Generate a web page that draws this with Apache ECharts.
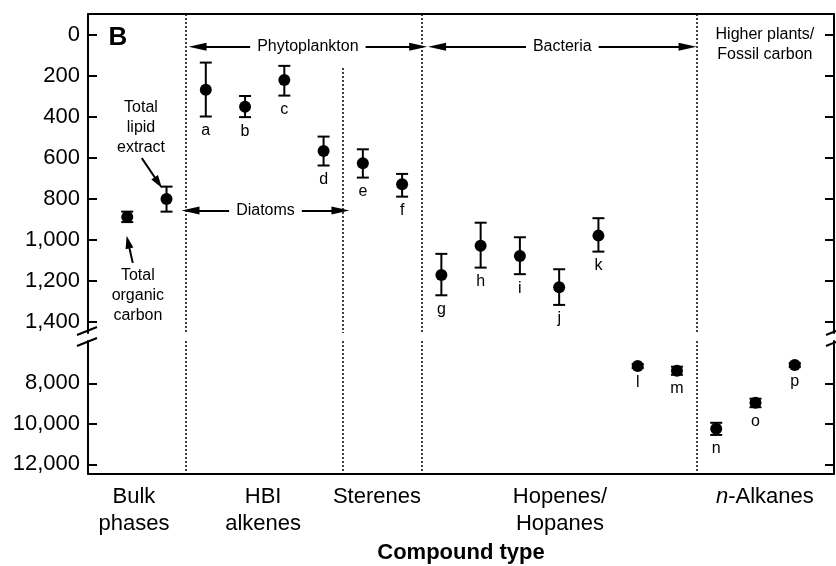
<!DOCTYPE html>
<html>
<head>
<meta charset="utf-8">
<script src="https://cdn.jsdelivr.net/npm/echarts@6/dist/echarts.min.js"></script>
<style>html,body{margin:0;padding:0;background:#fff}#chart{width:836px;height:566px}</style>
</head>
<body>
<div id="chart"></div>
<script>
// sample letters, mean ages and error bar ends (top segment < 1500, rest below the break)
var pointNames = ['', '', 'a', 'b', 'c', 'd', 'e', 'f', 'g', 'h', 'i', 'j', 'k', 'l', 'm', 'n', 'o', 'p'];
var pointMid = [888, 800, 268, 350, 220, 566, 626, 728, 1171, 1028, 1078, 1231, 979, 7150, 7380, 10250, 8960, 7100];
var pointLow = [862, 740, 135, 298, 151, 496, 558, 678, 1068, 916, 987, 1143, 894, 7050, 7180, 9950, 8760, 7000];
var pointHigh = [913, 862, 398, 401, 296, 637, 696, 789, 1270, 1135, 1167, 1317, 1057, 7250, 7580, 10550, 9180, 7200];
var groupNames = ['Bulk\nphases', 'HBI\nalkenes', 'Sterenes', 'Hopenes/\nHopanes', '{i|n}-Alkanes'];
var groupCenters = [0.17, 3.46, 6.36, 11.02, 16.24];
var groupBounds = [1.5, 7.5, 14.5];
var diatomBound = 5.5;
var topTicks = [0, 200, 400, 600, 800, 1000, 1200, 1400];
var bottomTicks = [8000, 10000, 12000];
var breakValue = 1500;

var FONT = '"Liberation Sans", Arial, Helvetica, sans-serif';
var arrowPath = 'path://M4,0 L8,18 L0,18 Z';

var topErr = [], topPts = [], topLbl = [], botErr = [], botPts = [], botLbl = [];
for (var i = 0; i < pointMid.length; i++) {
    var big = pointMid[i] > breakValue;
    (big ? botErr : topErr).push([i, pointLow[i], pointHigh[i]]);
    (big ? botPts : topPts).push([i, pointMid[i]]);
    if (pointNames[i]) (big ? botLbl : topLbl).push([i, pointHigh[i], pointNames[i]]);
}

function renderErr(params, api) {
    var a = api.coord([api.value(0), api.value(1)]);
    var b = api.coord([api.value(0), api.value(2)]);
    var w = 6;
    var st = {stroke: '#000', lineWidth: 2};
    return {type: 'group', children: [
        {type: 'line', shape: {x1: a[0], y1: a[1], x2: b[0], y2: b[1]}, style: st},
        {type: 'line', shape: {x1: a[0] - w, y1: a[1], x2: a[0] + w, y2: a[1]}, style: st},
        {type: 'line', shape: {x1: b[0] - w, y1: b[1], x2: b[0] + w, y2: b[1]}, style: st}
    ]};
}

function sep(x) {
    return {xAxis: x};
}
function arrowPair(x1, x2, y, text) {
    var lbl = {show: true, position: 'middle', formatter: text, color: '#000', fontSize: 16,
        fontFamily: FONT, backgroundColor: '#fff', padding: [2, 7], distance: 0, verticalAlign: 'middle'};
    var ls = {type: 'solid', width: 2, color: '#000'};
    return [
        {coord: [x1, y], symbol: arrowPath, symbolSize: [8, 18], label: lbl, lineStyle: ls},
        {coord: [x2, y], symbol: arrowPath, symbolSize: [8, 18], label: lbl, lineStyle: ls}
    ];
}
function pointer(x1, y1, x2, y2) {
    var ls = {type: 'solid', width: 2, color: '#000'};
    return [
        {coord: [x1, y1], symbol: 'none', lineStyle: ls, label: {show: false}},
        {coord: [x2, y2], symbol: arrowPath, symbolSize: [8, 13], lineStyle: ls, label: {show: false}}
    ];
}
function note(x, y, text, extra) {
    var lbl = {show: true, position: 'inside', formatter: text, color: '#000', fontSize: 16,
        lineHeight: 20, fontFamily: FONT, align: 'center', verticalAlign: 'middle'};
    for (var k in extra) lbl[k] = extra[k];
    return {coord: [x, y], symbolSize: 0, label: lbl};
}

var dotted = {type: [2, 2], width: 1.5, color: '#000'};
var axisLine = {show: true, onZero: false, lineStyle: {color: '#000', width: 2}};

function yAxisOf(grid, min, max, ticks, side) {
    return {
        type: 'value', gridIndex: grid, inverse: true, min: min, max: max, position: side,
        axisLine: axisLine,
        axisTick: {show: true, inside: true, length: 9, lineStyle: {color: '#000', width: 2}, customValues: ticks},
        axisLabel: {show: side === 'left', customValues: ticks, color: '#000', fontSize: 22, fontFamily: FONT,
            margin: 8, formatter: function (v) { return v.toLocaleString('en-US'); }},
        splitLine: {show: false}
    };
}

var chart = echarts.init(document.getElementById('chart'));
chart.setOption({
    animation: false,
    backgroundColor: '#fff',
    grid: [
        {left: 88, right: 2, top: 14, height: 319},
        {left: 88, right: 2, top: 341, height: 133}
    ],
    xAxis: [
        {type: 'value', gridIndex: 0, min: -1, max: 18, position: 'top', axisLine: axisLine,
            axisTick: {show: false}, axisLabel: {show: false}, splitLine: {show: false}},
        {type: 'value', gridIndex: 1, min: -1, max: 18, position: 'bottom', axisLine: axisLine,
            axisTick: {show: false}, splitLine: {show: false},
            name: 'Compound type', nameLocation: 'middle', nameGap: 68,
            nameTextStyle: {color: '#000', fontSize: 22, fontWeight: 'bold', fontFamily: FONT},
            axisLabel: {customValues: groupCenters, color: '#000', fontSize: 22, lineHeight: 27,
                fontFamily: FONT, margin: 9,
                formatter: function (v) {
                    for (var j = 0; j < groupCenters.length; j++) {
                        if (Math.abs(groupCenters[j] - v) < 1e-6) return groupNames[j];
                    }
                    return '';
                },
                rich: {i: {fontStyle: 'italic', fontSize: 22, fontFamily: FONT, color: '#000'}}}}
    ],
    yAxis: [
        yAxisOf(0, -102, 1454, topTicks, 'left'),
        yAxisOf(0, -102, 1454, topTicks, 'right'),
        yAxisOf(1, 5911, 12479, bottomTicks, 'left'),
        yAxisOf(1, 5911, 12479, bottomTicks, 'right')
    ],
    series: [
        {type: 'custom', xAxisIndex: 0, yAxisIndex: 0, renderItem: renderErr, data: topErr, z: 3,
            encode: {x: 0, y: [1, 2]}},
        {type: 'scatter', xAxisIndex: 0, yAxisIndex: 0, data: topPts, symbolSize: 12,
            itemStyle: {color: '#000', opacity: 1}, z: 4},
        {type: 'scatter', xAxisIndex: 0, yAxisIndex: 0, data: topLbl, symbolSize: 0, z: 5,
            itemStyle: {color: '#000', opacity: 1},
            label: {show: true, position: 'bottom', distance: 6, color: '#000', fontSize: 16, fontFamily: FONT,
                formatter: function (p) { return p.value[2]; }},
            markLine: {
                silent: true, symbol: ['none', 'none'], label: {show: false}, lineStyle: dotted,
                data: [
                    sep(groupBounds[0]), sep(groupBounds[1]), sep(groupBounds[2]),
                    [{coord: [diatomBound, 161]}, {coord: [diatomBound, 1454]}],
                    arrowPair(1.79, 7.41, 58, 'Phytoplankton'),
                    arrowPair(7.89, 14.27, 58, 'Bacteria'),
                    arrowPair(1.61, 5.43, 857, 'Diatoms'),
                    pointer(0.37, 601, 0.79, 720),
                    pointer(0.14, 1112, 0.02, 1010)
                ]
            },
            markPoint: {
                silent: true,
                data: [
                    note(-0.24, 12, 'B', {fontSize: 26, fontWeight: 'bold'}),
                    note(0.35, 454, 'Total\nlipid\nextract'),
                    note(0.27, 1273, 'Total\norganic\ncarbon'),
                    note(16.24, 49, 'Higher plants/\nFossil carbon')
                ]
            }},
        {type: 'custom', xAxisIndex: 1, yAxisIndex: 2, renderItem: renderErr, data: botErr, z: 3,
            encode: {x: 0, y: [1, 2]}},
        {type: 'scatter', xAxisIndex: 1, yAxisIndex: 2, data: botPts, symbolSize: 12,
            itemStyle: {color: '#000', opacity: 1}, z: 4},
        {type: 'scatter', xAxisIndex: 1, yAxisIndex: 2, data: botLbl, symbolSize: 0, z: 5,
            itemStyle: {color: '#000', opacity: 1},
            label: {show: true, position: 'bottom', distance: 6, color: '#000', fontSize: 16, fontFamily: FONT,
                formatter: function (p) { return p.value[2]; }},
            markLine: {
                silent: true, symbol: ['none', 'none'], label: {show: false}, lineStyle: dotted,
                data: [sep(groupBounds[0]), sep(diatomBound), sep(groupBounds[1]), sep(groupBounds[2])]
            }}
    ],
    graphic: [
        {type: 'line', shape: {x1: 77, y1: 335, x2: 97, y2: 327}, style: {stroke: '#000', lineWidth: 2}},
        {type: 'line', shape: {x1: 77, y1: 346, x2: 97, y2: 338}, style: {stroke: '#000', lineWidth: 2}},
        {type: 'line', shape: {x1: 826, y1: 335, x2: 836, y2: 331}, style: {stroke: '#000', lineWidth: 2}},
        {type: 'line', shape: {x1: 826, y1: 346, x2: 836, y2: 342}, style: {stroke: '#000', lineWidth: 2}}
    ]
});
</script>
</body>
</html>
